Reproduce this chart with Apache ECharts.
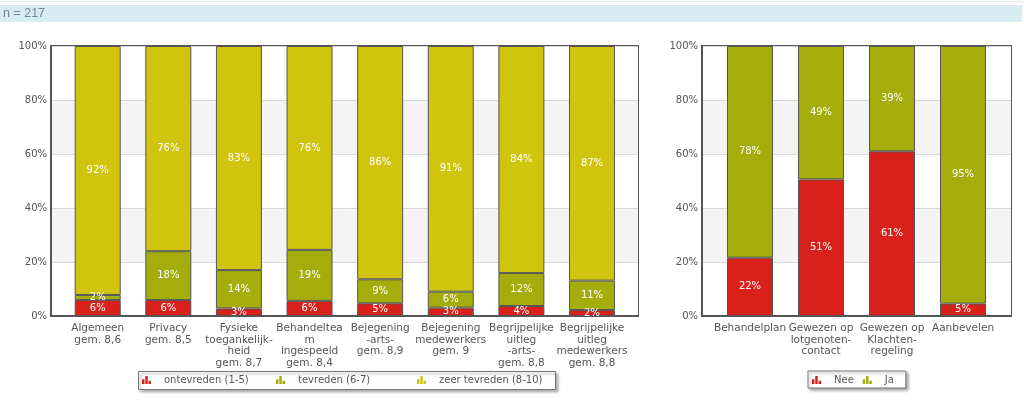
<!DOCTYPE html>
<html>
<head>
<meta charset="utf-8">
<script src="https://cdn.jsdelivr.net/npm/echarts/dist/echarts.min.js"></script>
<style>
  html, body { margin: 0; padding: 0; background: #fff; }
  #chart { width: 1024px; height: 402px; }
</style>
</head>
<body>
<div id="chart"></div>
<script>
// left chart: satisfaction per topic
const leftCategories = [
  'Algemeen\ngem. 8,6',
  'Privacy\ngem. 8,5',
  'Fysieke\ntoegankelijk-\nheid\ngem. 8,7',
  'Behandeltea\nm\ningespeeld\ngem. 8,4',
  'Bejegening\n-arts-\ngem. 8,9',
  'Bejegening\nmedewerkers\ngem. 9',
  'Begrijpelijke\nuitleg\n-arts-\ngem. 8,8',
  'Begrijpelijke\nuitleg\nmedewerkers\ngem. 8,8'
]
const leftSeriesNames = ['ontevreden (1-5)', 'tevreden (6-7)', 'zeer tevreden (8-10)']
const ontevreden = [5.9, 5.9, 2.8, 5.6, 4.7, 3.1, 3.7, 2.2]
const tevreden = [1.9, 18.1, 14.2, 18.9, 8.9, 5.9, 12.2, 10.9]
const zeerTevreden = [92.2, 76.0, 83.0, 75.5, 86.4, 91.0, 84.1, 86.9]

// right chart: yes / no questions
const rightCategories = [
  'Behandelplan',
  'Gewezen op\nlotgenoten-\ncontact',
  'Gewezen op\nKlachten-\nregeling',
  'Aanbevelen'
]
const nee = [21.6, 50.6, 61.0, 4.6]
const ja = [78.4, 49.4, 39.0, 95.4]

const yTicks = [0, 20, 40, 60, 80, 100]

const RED = '#d8211b'
const OLIVE = '#a4ad0b'
const YELLOW = '#d0c40e'
const FONT = '"DejaVu Sans", Verdana, sans-serif'
const ICON = 'path://M0,4h3v6h-3z M4,0h3v10h-3z M8,6h3v4h-3z'

const chart = echarts.init(document.getElementById('chart'))

function frameGrid(left, width) {
  return { left, top: 46, width, height: 270, show: true, borderColor: '#555', borderWidth: 2, backgroundColor: 'transparent' }
}
function barGrid(left, width) {
  return { left, top: 46, width, height: 270 }
}
function frameX(gridIndex) {
  return {
    gridIndex, type: 'value', min: 0, max: 1,
    axisLine: { show: true, lineStyle: { color: '#555', width: 2 } },
    axisTick: { show: false }, axisLabel: { show: false }, splitLine: { show: false }
  }
}
function frameY(gridIndex) {
  return {
    gridIndex, type: 'value', min: yTicks[0], max: yTicks[yTicks.length - 1], interval: 20,
    axisLine: { show: true, lineStyle: { color: '#555', width: 2 } },
    axisTick: { show: false },
    axisLabel: { formatter: '{value}%', color: '#555', fontSize: 10, fontFamily: FONT, margin: 4 },
    splitLine: { lineStyle: { color: '#d9d9d9' } },
    splitArea: { show: true, areaStyle: { color: ['#ffffff', '#f4f4f4'] } }
  }
}
function barX(gridIndex, data) {
  return {
    gridIndex, type: 'category', data,
    axisLine: { show: false }, axisTick: { show: false },
    axisLabel: { interval: 0, color: '#555', fontSize: 10.5, lineHeight: 11.5, fontFamily: FONT, margin: 7 }
  }
}
function barY(gridIndex) {
  return { gridIndex, type: 'value', min: 0, max: 100, show: false }
}
function barSeries(name, data, color, xi, stack) {
  return {
    name, type: 'bar', stack, data,
    xAxisIndex: xi, yAxisIndex: xi,
    barWidth: 46,
    itemStyle: { color, borderColor: '#555', borderWidth: 1 },
    label: {
      show: true, position: 'inside', color: '#fff', fontSize: 10, fontFamily: FONT,
      formatter: p => Math.round(p.value) + '%'
    }
  }
}
function legendItems(left, data, boxed) {
  const lg = {
    left, top: boxed ? 371 : 375, orient: 'horizontal', data,
    icon: ICON, itemWidth: 9, itemHeight: 11, itemGap: 9,
    padding: boxed ? [4, 12, 3, 4] : 0,
    itemStyle: { borderWidth: 0 },
    textStyle: { color: '#555', fontSize: 10, fontFamily: FONT, padding: [0, 0, 0, 8] },
    selectedMode: false
  }
  if (boxed) {
    Object.assign(lg, {
      borderColor: '#777', borderWidth: 1, backgroundColor: '#fff',
      shadowColor: 'rgba(0,0,0,0.35)', shadowBlur: 3, shadowOffsetX: 2, shadowOffsetY: 2
    })
  }
  return lg
}

chart.setOption({
  animation: false,
  graphic: [
    { type: 'rect', shape: { x: 0, y: 1, width: 1024, height: 1 }, style: { fill: '#e3e8ec' } },
    { type: 'rect', shape: { x: 0, y: 5, width: 1022, height: 17 }, style: { fill: '#d7ebf2' } },
    {
      type: 'text', x: 3, y: 14,
      style: { text: 'n = 217', fill: '#6b879b', font: '12.5px "Liberation Sans", Arial, sans-serif', verticalAlign: 'middle' }
    },
    // frame of the left legend
    {
      type: 'rect', z: 1,
      shape: { x: 138.5, y: 371.5, width: 417, height: 18 },
      style: { fill: '#fff', stroke: '#777', lineWidth: 1, shadowColor: 'rgba(0,0,0,0.35)', shadowBlur: 3, shadowOffsetX: 2, shadowOffsetY: 2 }
    }
  ],
  grid: [
    frameGrid(51, 587),
    barGrid(62.4, 564.9),
    frameGrid(702, 309),
    barGrid(714.5, 284)
  ],
  xAxis: [frameX(0), barX(1, leftCategories), frameX(2), barX(3, rightCategories)],
  yAxis: [frameY(0), barY(1), frameY(2), barY(3)],
  legend: [
    legendItems(142, [leftSeriesNames[0]], false),
    legendItems(276, [leftSeriesNames[1]], false),
    legendItems(417, [leftSeriesNames[2]], false),
    legendItems(808, ['Nee', 'Ja'], true)
  ],
  series: [
    barSeries(leftSeriesNames[0], ontevreden, RED, 1, 'left'),
    barSeries(leftSeriesNames[1], tevreden, OLIVE, 1, 'left'),
    barSeries(leftSeriesNames[2], zeerTevreden, YELLOW, 1, 'left'),
    barSeries('Nee', nee, RED, 3, 'right'),
    barSeries('Ja', ja, OLIVE, 3, 'right')
  ]
})
</script>
</body>
</html>
